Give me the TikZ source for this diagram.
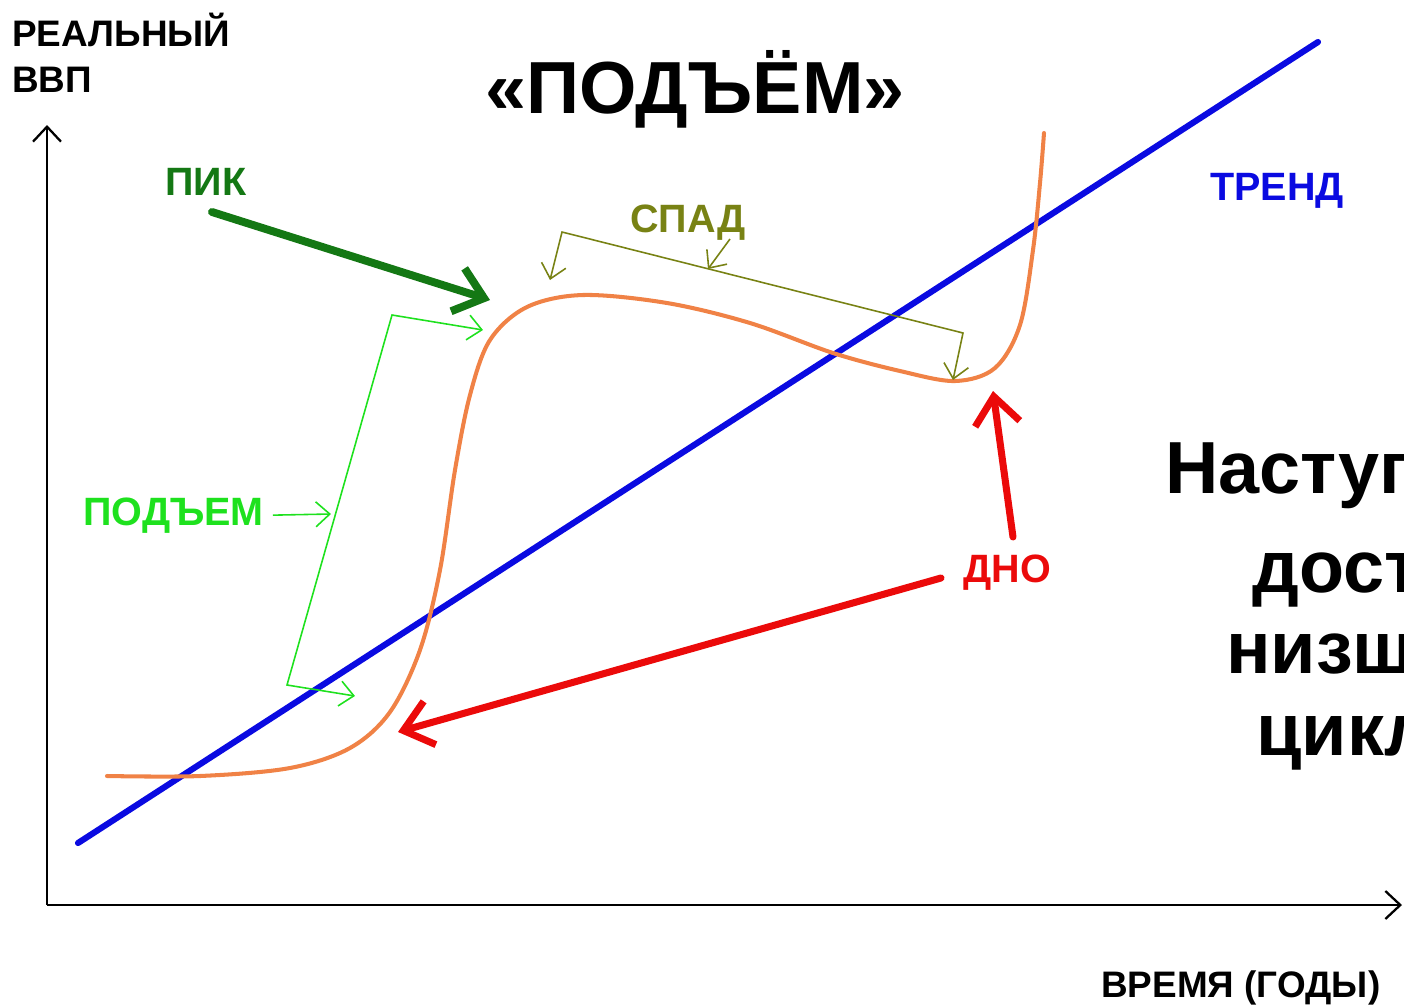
\documentclass[tikz,border=0pt]{standalone}
\usepackage{fontspec}
\setmainfont{Liberation Sans}
\usetikzlibrary{arrows.meta}

\definecolor{pikgreen}{RGB}{20,120,20}
\definecolor{liftgreen}{RGB}{30,225,30}
\definecolor{fallolive}{RGB}{120,130,20}
\definecolor{bottomred}{RGB}{235,10,10}
\definecolor{trendblue}{RGB}{10,10,225}
\definecolor{gdporange}{RGB}{240,130,70}

\begin{document}
\begin{tikzpicture}[x=0.02cm, y=-0.02cm,
    axis/.style={line width=1.3pt, -{Straight Barb[length=0.3cm, width=0.56cm]}},
    axistxt/.style={inner sep=0pt, anchor=base west, font=\bfseries\fontsize{21}{25}\selectfont},
    phasetxt/.style={inner sep=0pt, anchor=base west, font=\bfseries\fontsize{22.5}{27}\selectfont},
    bigtxt/.style={inner sep=0pt, anchor=base west, font=\bfseries\fontsize{42}{50}\selectfont},
    fatarrow/.style={line cap=round, -{Straight Barb[length=0.55cm, width=0.9cm]}},
    thinarrow/.style={line width=0.9pt, -{Straight Barb[length=0.28cm, width=0.5cm]}},
    thinbracket/.style={line width=0.9pt, {Straight Barb[length=0.28cm, width=0.5cm]}-{Straight Barb[length=0.28cm, width=0.5cm]}},
]
    % Рамка рисунка
    \clip (0,0) rectangle (1404,1005);

    % Оси
    \coordinate (origin) at (47,905);
    \coordinate (ytop) at (47,125);
    \coordinate (xend) at (1402,905);
    \draw[axis] (origin) -- (ytop);
    \draw[axis] (origin) -- (xend);
    \node[axistxt] (ylab) at (12,46) {РЕАЛЬНЫЙ};
    \node[axistxt] (ylabb) at (12,92) {ВВП};
    \node[axistxt] (xlab) at (1101,997) {ВРЕМЯ (ГОДЫ)};

    % Линия тренда
    \coordinate (trendA) at (78,843);
    \coordinate (trendB) at (1318,42);
    \draw[trendblue, line width=3.5pt, line cap=round] (trendA) -- (trendB);
    \node[phasetxt, text=trendblue] (trend) at (1210,200) {ТРЕНД};

    % Кривая ВВП
    \draw[gdporange, line width=2.3pt, line cap=round] plot[smooth, tension=0.55] coordinates {
        (107,776) (200,776) (290,768) (350,748) (390,712) (420,650) (440,570)
        (455,470) (470,395) (490,340) (527,307) (583,295) (667,303) (750,323)
        (833,353) (900,371) (955,381) (995,368) (1020,325) (1033,250) (1040,183) (1044,133)};

    % Заголовок
    \node[bigtxt, anchor=base] (title) at (695,113) {«ПОДЪЁМ»};

    % Пик
    \node[phasetxt, text=pikgreen] (pik) at (165,195) {ПИК};
    \coordinate (pikA) at (212,212);
    \coordinate (peak) at (490,300);
    \draw[fatarrow, pikgreen, line width=4.5pt] (pikA) -- (peak);

    % Спад
    \node[phasetxt, text=fallolive] (fall) at (630,232) {СПАД};
    \coordinate (fallL) at (550,280);
    \coordinate (fallA) at (562,232);
    \coordinate (fallB) at (963,333);
    \coordinate (fallR) at (953,380);
    \coordinate (fallP) at (730,239);
    \coordinate (fallM) at (708,269);
    \draw[thinbracket, fallolive] (fallL) -- (fallA) -- (fallB) -- (fallR);
    \draw[thinarrow, fallolive] (fallP) -- (fallM);

    % Подъем
    \node[phasetxt, text=liftgreen] (lift) at (83,525) {ПОДЪЕМ};
    \coordinate (liftT) at (483,330);
    \coordinate (liftA) at (392,315);
    \coordinate (liftB) at (287,685);
    \coordinate (liftD) at (355,696);
    \coordinate (liftM) at (331,514);
    \draw[thinbracket, liftgreen] (liftT) -- (liftA) -- (liftB) -- (liftD);
    \draw[thinarrow, liftgreen] ([xshift=5]lift.east) -- (liftM);

    % Дно
    \node[phasetxt, text=bottomred] (dno) at (963,582) {ДНО};
    \coordinate (dnoA) at (1013,537);
    \coordinate (trough) at (993,391);
    \coordinate (dnoB) at (941,578);
    \coordinate (lowrise) at (398,732);
    \draw[fatarrow, bottomred, line width=4pt] (dnoA) -- (trough);
    \draw[fatarrow, bottomred, line width=4pt] (dnoB) -- (lowrise);

    % Текст справа
    \node[bigtxt] (noteA) at (1165,493) {Наступает после};
    \node[bigtxt] (noteB) at (1252,592) {достижения};
    \node[bigtxt] (noteC) at (1226,673) {низшей точки};
    \node[bigtxt] (noteD) at (1256,755) {цикла};
\end{tikzpicture}
\end{document}
